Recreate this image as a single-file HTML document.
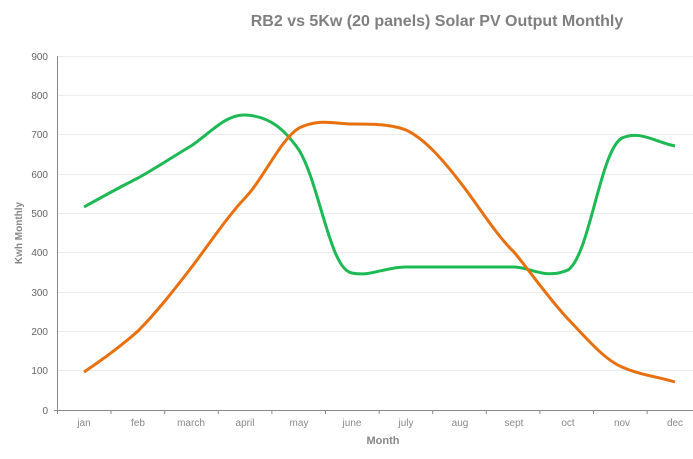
<!DOCTYPE html>
<html><head><style>body{margin:0;background:#fff}svg{display:block}text{font-family:"Liberation Sans",sans-serif}</style></head>
<body>
<svg width="693" height="459" viewBox="0 0 693 459">
<text x="437" y="26" text-anchor="middle" font-size="16" font-weight="bold" fill="#7f7f7f">RB2 vs 5Kw (20 panels) Solar PV Output Monthly</text>
<g stroke="#ececec" stroke-width="1">
<line x1="58" x2="693" y1="56.5" y2="56.5"/><line x1="58" x2="693" y1="95.5" y2="95.5"/><line x1="58" x2="693" y1="134.5" y2="134.5"/><line x1="58" x2="693" y1="174.5" y2="174.5"/><line x1="58" x2="693" y1="213.5" y2="213.5"/><line x1="58" x2="693" y1="252.5" y2="252.5"/><line x1="58" x2="693" y1="292.5" y2="292.5"/><line x1="58" x2="693" y1="331.5" y2="331.5"/><line x1="58" x2="693" y1="370.5" y2="370.5"/>
</g>
<g stroke="#888" stroke-width="1">
<line x1="57.5" x2="57.5" y1="56" y2="410"/><line x1="54" x2="693" y1="410.5" y2="410.5"/>
<line x1="57.5" x2="57.5" y1="410" y2="414"/><line x1="111" x2="111" y1="410" y2="414"/><line x1="164.7" x2="164.7" y1="410" y2="414"/><line x1="218.3" x2="218.3" y1="410" y2="414"/><line x1="271.9" x2="271.9" y1="410" y2="414"/><line x1="325.5" x2="325.5" y1="410" y2="414"/><line x1="379.1" x2="379.1" y1="410" y2="414"/><line x1="432.7" x2="432.7" y1="410" y2="414"/><line x1="486.3" x2="486.3" y1="410" y2="414"/><line x1="539.9" x2="539.9" y1="410" y2="414"/><line x1="593.5" x2="593.5" y1="410" y2="414"/><line x1="647.1" x2="647.1" y1="410" y2="414"/>
</g>
<g font-size="10" fill="#666" text-anchor="end">
<text x="48" y="60">900</text><text x="48" y="99">800</text><text x="48" y="138">700</text><text x="48" y="178">600</text><text x="48" y="217">500</text><text x="48" y="256">400</text><text x="48" y="296">300</text><text x="48" y="335">200</text><text x="48" y="374">100</text><text x="48" y="414">0</text>
</g>
<g font-size="10" fill="#888" text-anchor="middle">
<text x="84" y="426">jan</text><text x="138" y="426">feb</text><text x="191" y="426">march</text><text x="245" y="426">april</text><text x="299" y="426">may</text><text x="352" y="426">june</text><text x="406" y="426">july</text><text x="460" y="426">aug</text><text x="514" y="426">sept</text><text x="568" y="426">oct</text><text x="622" y="426">nov</text><text x="675" y="426">dec</text>
</g>
<text x="383" y="444" text-anchor="middle" font-size="11" font-weight="bold" fill="#888">Month</text>
<text transform="translate(22,233) rotate(-90)" text-anchor="middle" font-size="10" font-weight="bold" fill="#888">Kwh Monthly</text>
<path fill="none" stroke="#1db954" stroke-width="3" d="M84,207 C102,197 120,187 138,178 C156,168 174,156 191,146 C209,134 226,114 245,115 C270,116 285,130 299,150 C320,185 330,270 352,273 C370,277 385,267 406,267 L514,267 C530,267 545,280 568,270 C590,255 600,150 622,138 C640,130 655,142 675,146"/>
<path fill="none" stroke="#e8700f" stroke-width="3" d="M84,372 C102,360 120,347 138,331 C156,313 174,290 191,268 C210,243 227,217 245,198 C264,178 280,140 299,128 C320,118 335,124 352,124 C372,124 390,124 406,130 C425,139 443,160 460,182 C478,205 496,235 514,252 C532,274 550,300 568,319 C588,340 605,360 622,367 C640,375 655,376 675,382"/>
</svg>
</body></html>
